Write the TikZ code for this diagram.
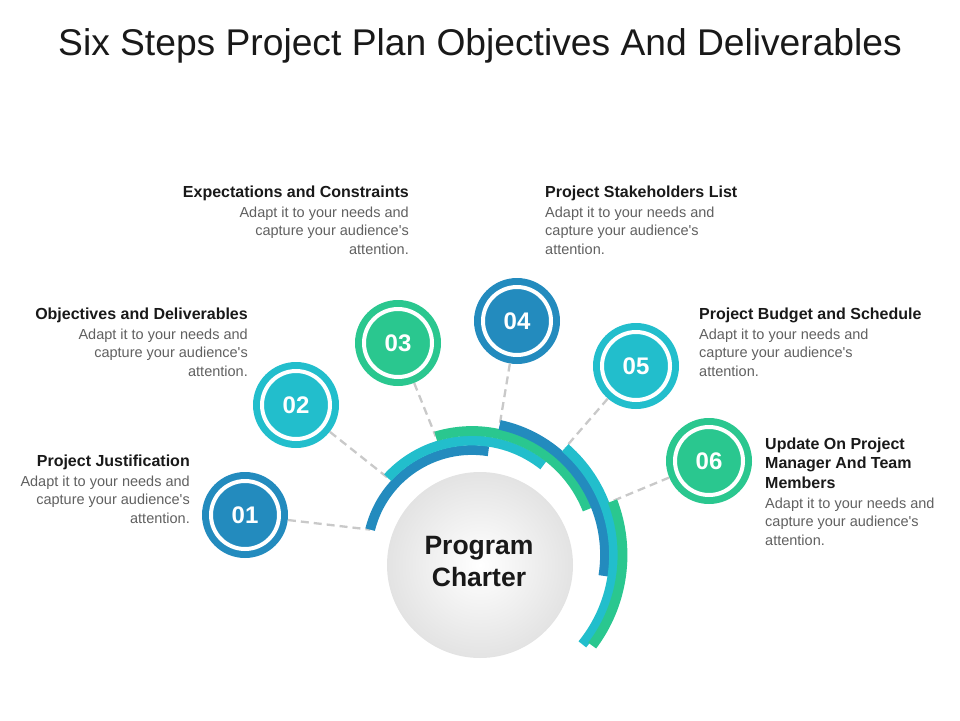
\documentclass[tikz,border=0pt]{standalone}
\usepackage{fontspec}
\setmainfont{Liberation Sans}
\usepackage{tikz}
\usepackage{xcolor}
\usetikzlibrary{positioning}
\definecolor{stepblue}{RGB}{35,139,190}
\definecolor{stepcyan}{RGB}{34,190,204}
\definecolor{stepgreen}{RGB}{42,199,143}
\definecolor{bodygray}{RGB}{96,96,96}
\tikzset{
    step-circle/.style = {circle, fill=#1, minimum size=86pt, inner sep=0pt, text=white, font=\fontsize{24}{28}\selectfont\bfseries,
        path picture={\draw[white, line width=4pt] (path picture bounding box.center) circle[radius=34pt];}},
    step-arc/.style = {draw=#1, line width=9.8pt},
    step-link/.style = {draw=gray!42, line width=2.3pt, dash pattern=on 8pt off 5pt},
    step-title/.style = {inner sep=0pt, text depth=0pt, font=\fontsize{16}{19.5}\selectfont\bfseries, text=black!90},
    step-text/.style = {inner sep=0pt, font=\fontsize{14.5}{18.3}\selectfont, text=bodygray},
}

\begin{document}
\begin{tikzpicture}[x=1pt, y=-1pt]
\useasboundingbox (0,0) rectangle (960,720);
\node[font=\fontsize{37.2}{40}\selectfont, text=black!90, anchor=base] (title) at (480,55) {Six Steps Project Plan Objectives And Deliverables};

\node[circle, minimum size=186pt, inner color=white, outer color=gray!22] (charter) at (480,565) {};
\node[align=center, font=\fontsize{26.5}{32}\selectfont\bfseries, text=black!90] (charter-label) at (479,562) {Program\\Charter};

\coordinate (o) at (472,555);
\path (o) ++(-166:105) coordinate (a1)
      (o) ++(-137.5:114.5) coordinate (a2)
      (o) ++(-107:124) coordinate (a3)
      (o) ++(-78:133) coordinate (a4)
      (o) ++(-49:142) coordinate (a5)
      (o) ++(-21:150.5) coordinate (a6);

\node[step-circle=stepblue] (c1) at (245,515) {01};
\node[step-circle=stepcyan] (c2) at (296,405) {02};
\node[step-circle=stepgreen] (c3) at (398,343) {03};
\node[step-circle=stepblue] (c4) at (517,321) {04};
\node[step-circle=stepcyan] (c5) at (636,366) {05};
\node[step-circle=stepgreen] (c6) at (709,461) {06};

\draw[step-link] (c1) -- (a1);
\draw[step-link] (c2) -- (a2);
\draw[step-link] (c3) -- (a3);
\draw[step-link] (c4) -- (a4);
\draw[step-link] (c5) -- (a5);
\draw[step-link] (c6) -- (a6);

\draw[step-arc=stepblue] (a1) arc[start angle=-166, end angle=-81, radius=105];
\draw[step-arc=stepcyan] (a2) arc[start angle=-137.5, end angle=-51.5, radius=114.5];
\draw[step-arc=stepgreen] (a3) arc[start angle=-107, end angle=-21.5, radius=124];
\draw[step-arc=stepblue] (a4) arc[start angle=-78, end angle=9, radius=133];
\draw[step-arc=stepcyan] (a5) arc[start angle=-49, end angle=39, radius=142];
\draw[step-arc=stepgreen] (a6) arc[start angle=-21, end angle=37, radius=150.5];

\node[step-title, anchor=base east] (t1) at (190,466) {Project Justification};
\node[step-text, align=right, below=9.6pt of t1.south east, anchor=north east] (d1) {Adapt it to your needs and\\capture your audience\textquotesingle s\\attention.};
\node[step-title, anchor=base east] (t2) at (248,319) {Objectives and Deliverables};
\node[step-text, align=right, below=9.6pt of t2.south east, anchor=north east] (d2) {Adapt it to your needs and\\capture your audience\textquotesingle s\\attention.};
\node[step-title, anchor=base east] (t3) at (409,197) {Expectations and Constraints};
\node[step-text, align=right, below=9.6pt of t3.south east, anchor=north east] (d3) {Adapt it to your needs and\\capture your audience\textquotesingle s\\attention.};
\node[step-title, anchor=base west] (t4) at (545,197) {Project Stakeholders List};
\node[step-text, align=left, below=9.6pt of t4.south west, anchor=north west] (d4) {Adapt it to your needs and\\capture your audience\textquotesingle s\\attention.};
\node[step-title, anchor=base west] (t5) at (699,319) {Project Budget and Schedule};
\node[step-text, align=left, below=9.6pt of t5.south west, anchor=north west] (d5) {Adapt it to your needs and\\capture your audience\textquotesingle s\\attention.};
\node[step-title, align=left, anchor=north west] (t6) at (765,437.3) {Update On Project\\Manager And Team\\Members};
\node[step-text, align=left, below=9.6pt of t6.south west, anchor=north west] (d6) {Adapt it to your needs and\\capture your audience\textquotesingle s\\attention.};
\end{tikzpicture}
\end{document}
